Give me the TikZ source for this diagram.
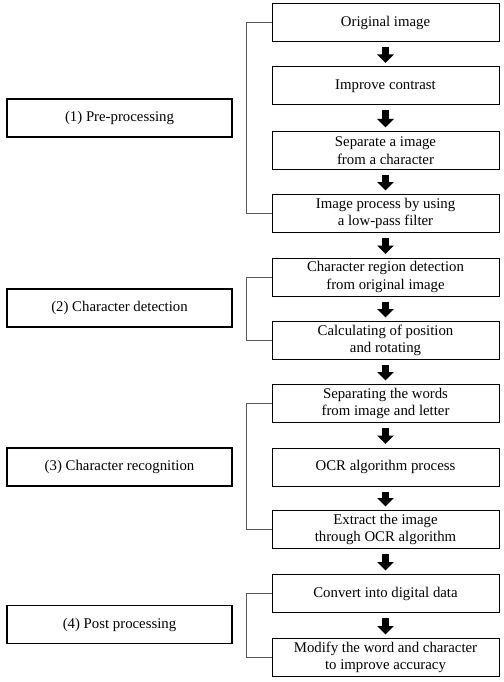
\documentclass[tikz,border=0pt]{standalone}
\usepackage{fontspec}
\setmainfont{Liberation Serif}
\usetikzlibrary{arrows.meta}
\begin{document}
\begin{tikzpicture}[x=1pt,y=-1pt,
  stepbox/.style={draw=black,line width=1pt,minimum width=227pt,minimum height=38pt,inner sep=0pt,align=center,font=\fontsize{14.8}{17.5}\selectfont},
  phasebox/.style={draw=black,line width=1.1pt,minimum width=225pt,minimum height=38pt,inner sep=0pt,align=center,font=\fontsize{14.8}{17.5}\selectfont},
  bigarrow/.style={line width=6.5pt,-{Triangle[width=16pt,length=8.5pt]},shorten <=5pt,shorten >=3.5pt},
  bracketline/.style={draw=black!65,line width=1pt}]
\useasboundingbox (0,0) rectangle (503,682);
\node[stepbox] (b1) at (385.5,23) {Original image};
\node[stepbox] (b2) at (385.5,86) {Improve contrast};
\node[stepbox] (b3) at (385.5,150.5) {Separate a image\\from a character};
\node[stepbox] (b4) at (385.5,213.5) {Image process by using\\a low-pass filter};
\node[stepbox] (b5) at (385.5,277) {Character region detection\\from original image};
\node[stepbox] (b6) at (385.5,340.5) {Calculating of position\\and rotating};
\node[stepbox] (b7) at (385.5,403.5) {Separating the words\\from image and letter};
\node[stepbox] (b8) at (385.5,467) {OCR algorithm process};
\node[stepbox] (b9) at (385.5,529.5) {Extract the image\\through OCR algorithm};
\node[stepbox] (b10) at (385.5,593.5) {Convert into digital data};
\node[stepbox] (b11) at (385.5,657.5) {Modify the word and character\\to improve accuracy};
\node[phasebox] (p1) at (119.5,118) {(1) Pre-processing};
\node[phasebox] (p2) at (119.5,308) {(2) Character detection};
\node[phasebox] (p3) at (119.5,467) {(3) Character recognition};
\node[phasebox] (p4) at (119.5,624.5) {(4) Post processing};
\foreach \a/\b in {b1/b2,b2/b3,b3/b4,b4/b5,b5/b6,b6/b7,b7/b8,b8/b9,b9/b10,b10/b11}
  \draw[bigarrow] (\a.south) -- (\b.north);
\draw[bracketline] (b1.west) -- ++(-25,0) |- (b4.west);
\draw[bracketline] (b5.west) -- ++(-25,0) |- (b6.west);
\draw[bracketline] (b7.west) -- ++(-25,0) |- (b9.west);
\draw[bracketline] (b10.west) -- ++(-25,0) |- (b11.west);
\end{tikzpicture}
\end{document}
